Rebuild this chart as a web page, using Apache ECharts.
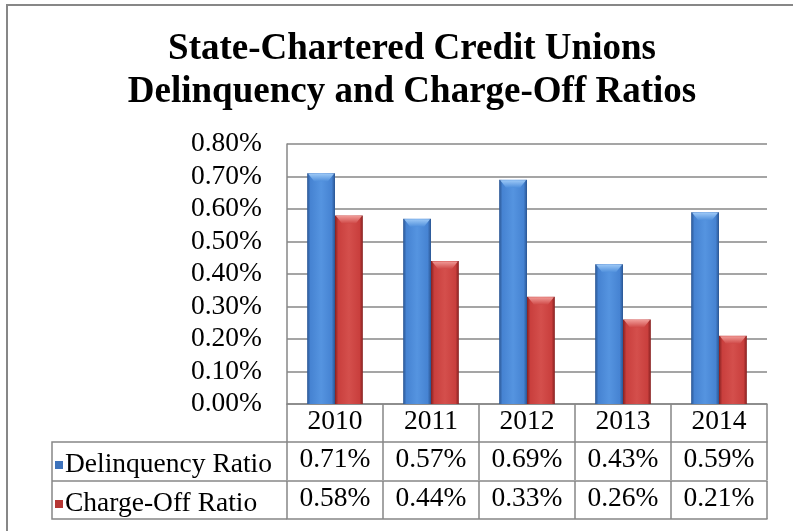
<!DOCTYPE html>
<html>
<head>
<meta charset="utf-8">
<script src="https://cdn.jsdelivr.net/npm/echarts@6/dist/echarts.min.js"></script>
<style>
html,body{margin:0;padding:0;background:#fff;}
#chart{width:793px;height:531px;}
</style>
</head>
<body>
<div id="chart"></div>
<script>
var categories = ['2010', '2011', '2012', '2013', '2014'];
var delinquency = [0.71, 0.57, 0.69, 0.43, 0.59];
var chargeOff = [0.58, 0.44, 0.33, 0.26, 0.21];
var seriesNames = ['Delinquency Ratio', 'Charge-Off Ratio'];
var yTicks = [0, 0.1, 0.2, 0.3, 0.4, 0.5, 0.6, 0.7, 0.8];
var titleLines = ['State-Chartered Credit Unions', 'Delinquency and Charge-Off Ratios'];

var FONT = '"Liberation Serif", "Times New Roman", serif';
var GRAY = '#878787';
var FS = 27.5;
var pct = function (v) { return v.toFixed(2) + '%'; };

var palettes = [
  {edge: '#2a5592', mid: '#4683d2', light: '#5594e0', cap: '#9cc8f6', capEnd: '#4f8fdc', legend: '#3d72bb'},
  {edge: '#852020', mid: '#c93f3d', light: '#d44f4c', cap: '#f09a96', capEnd: '#cf4846', legend: '#b63634'}
];

function makeRender(sIdx) {
  var pal = palettes[sIdx];
  return function (params, api) {
    var ci = api.value(0);
    var v = api.value(1);
    var top = api.coord([ci, v]);
    var base = api.coord([ci, 0]);
    var catW = api.size([1, 0])[0];
    var w = catW * 0.29;
    var x0 = top[0] + (sIdx === 0 ? -w : 0);
    var y0 = top[1];
    var h = base[1] - top[1];
    var cap = 8;
    var grad = new echarts.graphic.LinearGradient(0, 0, 1, 0, [
      {offset: 0, color: pal.edge},
      {offset: 0.12, color: pal.mid},
      {offset: 0.5, color: pal.light},
      {offset: 0.88, color: pal.mid},
      {offset: 1, color: pal.edge}
    ]);
    var capGrad = new echarts.graphic.LinearGradient(0, 0, 0, 1, [
      {offset: 0, color: pal.cap},
      {offset: 1, color: pal.capEnd}
    ]);
    return {
      type: 'group',
      children: [
        {type: 'rect', shape: {x: x0, y: y0, width: w, height: h}, style: {fill: grad}},
        {type: 'polygon', shape: {points: [[x0 + 1, y0 + 0.5], [x0 + w - 1, y0 + 0.5], [x0 + w - 7, y0 + cap], [x0 + 7, y0 + cap]]},
          style: {fill: capGrad}}
      ]
    };
  };
}

var chart = echarts.init(document.getElementById('chart'), null, {renderer: 'canvas'});

function rowAxis(data, offset) {
  return {
    type: 'category', data: data, position: 'bottom', offset: offset, gridIndex: 0,
    axisLine: {show: true, lineStyle: {color: GRAY, width: 1.5}},
    axisTick: {show: true, length: 38, inside: false, lineStyle: {color: GRAY, width: 1.5}},
    axisLabel: {fontFamily: FONT, fontSize: FS, color: '#000', margin: 4},
    splitLine: {show: false}
  };
}

var option = {
  backgroundColor: '#fff',
  animation: false,
  title: {
    text: titleLines.join('\n'),
    left: 407, top: 23, textAlign: 'center',
    textStyle: {fontFamily: FONT, fontWeight: 'bold', fontSize: 37, lineHeight: 43, color: '#000'}
  },
  legend: {
    data: seriesNames, orient: 'vertical', left: 50, top: 445,
    icon: 'rect', itemWidth: 8, itemHeight: 8, itemGap: 9,
    textStyle: {fontFamily: FONT, fontSize: FS, lineHeight: 30, color: '#000', padding: [0, 0, 0, -3]},
    selectedMode: false
  },
  grid: {left: 287, right: 26, top: 144, bottom: 127, containLabel: false},
  xAxis: [
    rowAxis(categories, 0),
    rowAxis(delinquency.map(pct), 38),
    rowAxis(chargeOff.map(pct), 77),
    {type: 'category', data: categories, position: 'bottom', offset: 115,
      axisLine: {show: true, lineStyle: {color: GRAY, width: 1.5}},
      axisTick: {show: false}, axisLabel: {show: false}}
  ],
  yAxis: {
    type: 'value', min: 0, max: 0.8, interval: 0.1,
    axisLine: {show: true, lineStyle: {color: GRAY, width: 1.5}},
    axisTick: {show: false},
    axisLabel: {fontFamily: FONT, fontSize: FS, color: '#000', margin: 25,
      formatter: function (v) { return pct(v); }},
    splitLine: {show: true, lineStyle: {color: GRAY, width: 1.5}}
  },
  series: [
    {name: seriesNames[0], type: 'custom', renderItem: makeRender(0), itemStyle: {color: palettes[0].legend},
      encode: {x: 0, y: 1}, data: delinquency.map(function (v, i) { return [i, v]; }), z: 3},
    {name: seriesNames[1], type: 'custom', renderItem: makeRender(1), itemStyle: {color: palettes[1].legend},
      encode: {x: 0, y: 1}, data: chargeOff.map(function (v, i) { return [i, v]; }), z: 3}
  ],
  graphic: [
    {type: 'rect', shape: {x: 7, y: 5, width: 820, height: 560}, style: {fill: 'none', stroke: GRAY, lineWidth: 2}, silent: true},
    {type: 'polyline', shape: {points: [[287, 442], [52, 442], [52, 519], [287, 519]]}, style: {fill: 'none', stroke: GRAY, lineWidth: 1.5}, silent: true},
    {type: 'line', shape: {x1: 52, y1: 481, x2: 287, y2: 481}, style: {stroke: GRAY, lineWidth: 1.5}, silent: true}
  ]
};
chart.setOption(option);
</script>
</body>
</html>
